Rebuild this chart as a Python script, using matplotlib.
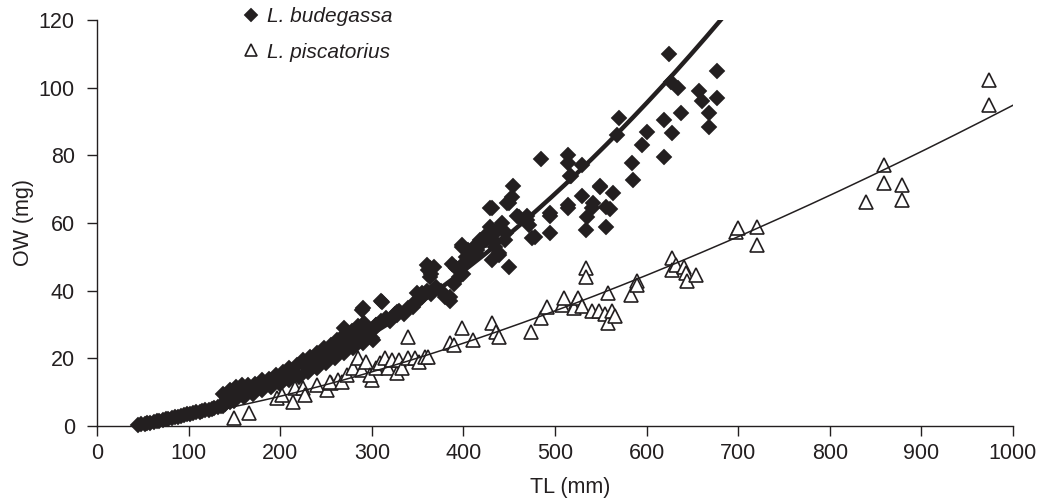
import matplotlib
matplotlib.use("Agg")
import matplotlib.pyplot as plt
import numpy as np

plt.rcParams['font.family'] = ['Liberation Sans', 'DejaVu Sans']

INK = '#231f20'

# ---- L. budegassa (filled diamonds) ----
bud_tl = [45, 48, 52, 55, 58, 62, 65, 68, 72, 75, 78, 82, 85, 88, 92, 95, 98, 102, 105, 108,
          112, 115, 118, 122, 125, 128, 132, 135, 138,
          140, 145, 150, 160, 170, 180, 190, 200, 210, 220, 230, 240, 250, 260, 270, 280, 290, 300,
          138, 145, 152, 158, 165, 172, 180, 188, 195, 203, 210, 218, 225, 232, 240, 248, 255, 262,
          270, 278, 285, 292,
          142, 155, 168, 178, 192, 205, 215, 228, 236, 245, 256, 266, 276, 286, 296,
          259, 268, 270, 289, 289, 290, 301, 305, 311, 310, 327, 328, 345, 349, 355,
          300, 305, 310, 315, 320, 325, 330, 335, 340, 345, 350, 355, 360, 365, 370, 375, 380, 385,
          390, 395, 400,
          360, 361, 363, 363, 365, 368, 385, 388, 392, 399, 399, 407, 414, 418, 429, 429, 431, 431,
          439, 439, 447, 448, 450, 450, 453, 454, 459, 461, 469, 469, 472, 475, 478, 485, 494, 494, 494,
          400, 403, 405, 410, 412, 415, 420, 422, 425, 428, 432, 435, 438, 442, 445,
          514, 514, 514, 514, 516, 518, 529, 529, 540, 541, 535, 534, 549, 549, 556, 556, 560, 563,
          585, 584, 570, 568, 595, 600, 619, 619, 624, 627, 634, 638, 628, 657, 660, 668, 668, 677, 677]
bud_ow = [0.3, 0.5, 0.7, 0.8, 1.0, 1.2, 1.4, 1.5, 1.8, 2.0, 2.1, 2.4, 2.6, 2.8, 3.0, 3.2, 3.4, 3.6, 3.9, 4.0,
          4.2, 4.4, 4.6, 4.8, 5.0, 5.2, 5.5, 5.8, 6.0,
          6.5, 7.0, 7.5, 8.5, 9.5, 10.5, 11.5, 12.5, 13.5, 14.5, 16.0, 17.0, 18.5, 20.0, 21.5, 23.0, 24.5, 26.0,
          9.5, 10.5, 11.5, 12.0, 12.0, 12.5, 13.5, 14.0, 15.0, 16.0, 17.0, 18.0, 19.5, 20.5, 21.5, 23.0, 24.0, 25.5,
          27.0, 28.0, 29.5, 30.5,
          8.0, 9.5, 10.5, 12.0, 13.5, 14.5, 15.5, 17.5, 18.5, 20.0, 21.5, 23.5, 25.0, 27.0, 28.5,
          22.5, 25.4, 29.0, 28.4, 34.3, 35.0, 25.4, 30.0, 36.6, 37.0, 33.7, 32.8, 35.2, 39.3, 39.3,
          28.0, 30.0, 31.0, 32.0, 31.0, 33.0, 34.0, 33.0, 35.0, 36.0, 37.0, 38.0, 40.0, 39.0, 41.0, 40.0, 38.0, 37.0,
          42.0, 44.0, 45.0,
          47.5, 46.0, 44.0, 46.7, 45.0, 47.0, 38.0, 48.0, 46.7, 53.0, 53.5, 49.6, 51.0, 55.0, 58.8, 64.4, 64.4, 49.0,
          50.5, 51.0, 57.0, 65.9, 66.0, 47.0, 67.7, 71.0, 62.0, 61.8, 61.0, 62.0, 59.4, 55.5, 55.9, 79.0, 62.0, 57.0, 63.0,
          48.0, 50.0, 52.0, 50.0, 53.0, 52.0, 54.0, 56.0, 55.0, 57.0, 55.0, 53.0, 58.0, 60.0, 55.0,
          80.0, 77.7, 65.3, 64.4, 74.0, 74.0, 77.0, 68.0, 64.5, 65.9, 61.8, 58.0, 71.0, 70.7, 64.8, 58.8, 64.0, 69.0,
          72.7, 77.7, 91.0, 86.0, 83.0, 87.0, 90.4, 79.5, 110.0, 101.7, 100.0, 92.5, 86.6, 99.0, 96.0, 92.5, 88.4, 105.0, 97.0]

# ---- L. piscatorius (open triangles) ----
pis_tl = [150, 166, 196, 202, 214, 216, 225, 227, 240, 251, 256, 263, 254, 267, 273, 280, 285, 289, 294, 300,
          298, 305, 309, 314, 318, 322, 327, 330, 333, 339, 339, 347, 352, 358, 361, 385, 390, 399, 410, 431,
          436, 439, 474, 485, 491, 508, 510, 523, 521, 525, 530, 534, 534, 540, 548, 555, 558, 558, 562, 565,
          583, 589, 589, 628, 628, 632, 641, 643, 644, 654, 698, 700, 720, 720, 840, 859, 859, 879, 879, 974, 974]
pis_ow = [2.4, 3.8, 8.3, 9.2, 7.0, 11.2, 11.2, 9.2, 12.0, 10.6, 12.7, 13.6, 13.0, 13.0, 15.0, 17.0, 20.0, 16.5, 19.0, 13.6,
          15.0, 17.0, 18.6, 20.0, 17.0, 19.5, 15.7, 19.5, 17.0, 20.0, 26.3, 20.0, 19.0, 20.4, 20.4, 24.5, 23.9, 29.0, 25.4, 30.4,
          27.8, 26.3, 27.8, 31.9, 35.2, 35.8, 37.8, 36.6, 34.9, 37.8, 35.5, 46.7, 44.0, 34.0, 34.0, 33.0, 30.5, 39.3, 34.0, 32.5,
          38.7, 43.0, 41.7, 49.7, 46.0, 47.5, 47.0, 45.2, 43.0, 44.6, 57.3, 58.5, 58.8, 53.5, 66.2, 77.2, 71.8, 71.2, 66.8, 102.3, 94.9]

# ---- fitted power curves OW = a * TL^b ----
bud_fit_a, bud_fit_b, bud_fit_range = 8.94e-4, 1.81, (140, 700)
pis_fit_a, pis_fit_b, pis_fit_range = 3.49e-3, 1.478, (142, 1000)

x_ticks = [0, 100, 200, 300, 400, 500, 600, 700, 800, 900, 1000]
y_ticks = [0, 20, 40, 60, 80, 100, 120]

fig = plt.figure(figsize=(10.38, 5.03), dpi=100)
ax = fig.add_axes([97/1038, 1-426/503, (1013-97)/1038, (426-20)/503])

FS = 15.5

ax.plot(bud_tl, bud_ow, linestyle='none', marker='D', ms=8.3, color=INK, mec=INK, mew=0.3,
        clip_on=False, zorder=2, label='L. budegassa')
xb = np.linspace(*bud_fit_range, 300)
ax.plot(xb, bud_fit_a * xb ** bud_fit_b, color=INK, lw=3.2, zorder=3)

ax.plot(pis_tl, pis_ow, linestyle='none', marker='^', ms=10, mfc='white', mec=INK, mew=1.2,
        clip_on=False, zorder=4, label='L. piscatorius')
xp = np.linspace(*pis_fit_range, 300)
ax.plot(xp, pis_fit_a * xp ** pis_fit_b, color=INK, lw=1.1, zorder=5)

ax.set_xlim(0, 1000)
ax.set_ylim(0, 120)
ax.set_xticks(x_ticks)
ax.set_yticks(y_ticks)
ax.tick_params(axis='both', colors=INK, labelsize=FS, width=1.0)
ax.tick_params(axis='x', length=7, pad=5)
ax.tick_params(axis='y', length=7, pad=9)
for s in ['top', 'right']:
    ax.spines[s].set_visible(False)
for s in ['left', 'bottom']:
    ax.spines[s].set_color(INK)
    ax.spines[s].set_linewidth(1.0)

ax.set_xlabel('TL (mm)', fontsize=FS, color=INK, labelpad=9)
ax.xaxis.set_label_coords((570 - 97) / 916, -(487 - 426 - 10) / 406)
ax.set_ylabel('OW (mg)', fontsize=FS, color=INK, labelpad=3)

leg = ax.legend(loc='upper left', bbox_to_anchor=(243/1038, 1-7/503), bbox_transform=fig.transFigure,
                frameon=False, fontsize=FS - 0.5, handlelength=0.75, handletextpad=0.4, labelspacing=0.8,
                borderpad=0, borderaxespad=0, markerscale=0.92)
for t in leg.get_texts():
    t.set_fontstyle('italic')
    t.set_color(INK)

fig.savefig('out.png', dpi=100)
